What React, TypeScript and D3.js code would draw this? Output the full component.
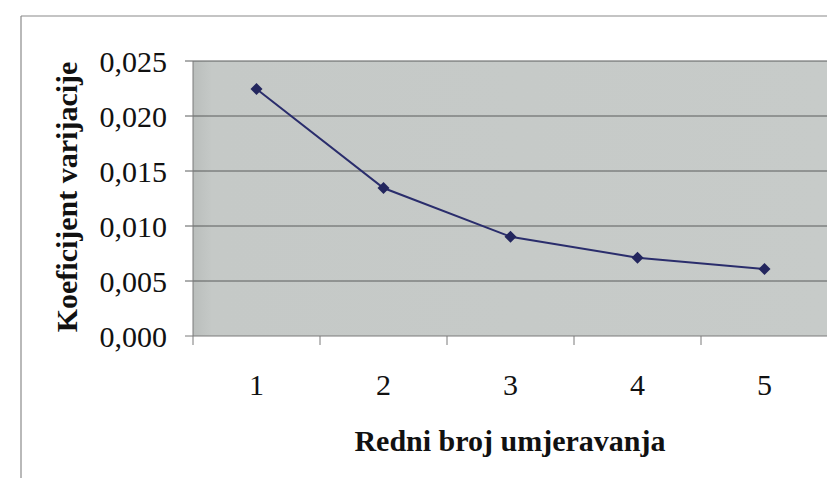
import React from "react";
import * as d3 from "d3";

const categories = ["1", "2", "3", "4", "5"];
const values = [0.02245, 0.01345, 0.00903, 0.00712, 0.00609];
const yTicks = [0, 0.005, 0.01, 0.015, 0.02, 0.025];
const yTitle = "Koeficijent varijacije";
const xTitle = "Redni broj umjeravanja";

const W = 827;
const H = 478;
const plot = { left: 193, right: 828, top: 61, bottom: 336 };

export default function App() {
  const x = d3.scaleBand<string>().domain(categories).range([plot.left, plot.right]);
  const y = d3.scaleLinear().domain([0, 0.025]).range([plot.bottom, plot.top]);
  const cx = (c: string) => (x(c) ?? 0) + x.bandwidth() / 2;
  const line = d3
    .line<number>()
    .x((_, i) => cx(categories[i]))
    .y((d) => y(d));
  const fmt = (v: number) => v.toFixed(3).replace(".", ",");
  const diamond = "M0,-6L6,0L0,6L-6,0Z";
  const font = "'Liberation Serif', 'Times New Roman', serif";

  return (
    <svg
      width={W}
      height={H}
      style={{ position: "absolute", left: 0, top: 0, background: "#fff" }}
      fontFamily={font}
    >
      <defs>
        <linearGradient id="bg" x1="0" x2="1" y1="0" y2="0">
          <stop offset="0" stopColor="#babebc" />
          <stop offset="0.03" stopColor="#c5c9c7" />
          <stop offset="1" stopColor="#c7cbc9" />
        </linearGradient>
      </defs>
      {/* outer frame */}
      <line x1={21} x2={W} y1={16} y2={16} stroke="#8a8a8a" strokeWidth={1.2} />
      <line x1={21} x2={21} y1={16} y2={H} stroke="#8a8a8a" strokeWidth={1.2} />

      {/* plot area */}
      <rect
        x={plot.left}
        y={plot.top}
        width={plot.right - plot.left}
        height={plot.bottom - plot.top}
        fill="url(#bg)"
      />
      {yTicks.map((t) => (
        <g key={t}>
          <line
            x1={plot.left - 8}
            x2={plot.right}
            y1={y(t)}
            y2={y(t)}
            stroke={t === 0 ? "#7a7a7a" : "#5a5c5c"}
            strokeWidth={1}
          />
          <text x={167} y={y(t) + 11} textAnchor="end" fontSize={30} fill="#111">
            {fmt(t)}
          </text>
        </g>
      ))}
      {/* y axis */}
      <line x1={plot.left} x2={plot.left} y1={plot.top} y2={plot.bottom + 9} stroke="#7a7a7a" strokeWidth={1} />
      {/* x ticks */}
      {categories.map((c, i) =>
        i === 0 ? null : (
          <line
            key={"t" + c}
            x1={x(c)}
            x2={x(c)}
            y1={plot.bottom}
            y2={plot.bottom + 9}
            stroke="#7a7a7a"
            strokeWidth={1}
          />
        )
      )}
      {categories.map((c) => (
        <text key={"l" + c} x={cx(c)} y={395} textAnchor="middle" fontSize={30} fill="#111">
          {c}
        </text>
      ))}

      {/* series */}
      <path d={line(values) || ""} fill="none" stroke="#2a2d6c" strokeWidth={2} />
      {values.map((v, i) => (
        <path
          key={"m" + i}
          d={diamond}
          transform={`translate(${cx(categories[i])},${y(v)})`}
          fill="#23265e"
        />
      ))}

      {/* titles */}
      <text x={510} y={451} textAnchor="middle" fontSize={30} fontWeight="bold" fill="#111">
        {xTitle}
      </text>
      <text
        transform={`translate(77,197) rotate(-90)`}
        textAnchor="middle"
        fontSize={30}
        fontWeight="bold"
        fill="#111"
      >
        {yTitle}
      </text>
    </svg>
  );
}
